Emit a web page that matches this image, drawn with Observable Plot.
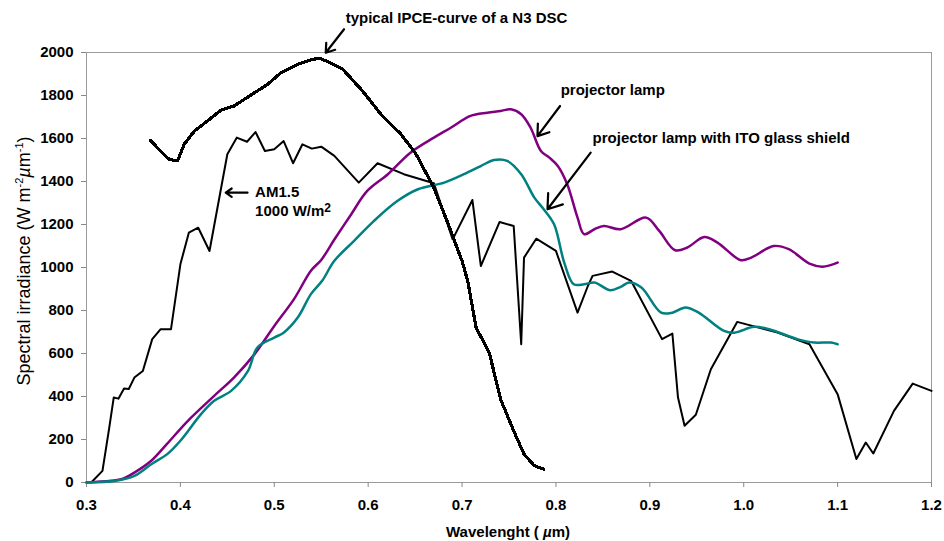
<!DOCTYPE html>
<html>
<head>
<meta charset="utf-8">
<script src="https://cdn.jsdelivr.net/npm/d3@7"></script>
<script src="https://cdn.jsdelivr.net/npm/@observablehq/plot@0.6"></script>
<style>
  html, body { margin: 0; padding: 0; background: #fff; }
</style>
</head>
<body>
<div id="chart"></div>
<script>
// AM1.5 reference solar spectrum (1000 W/m²)
const am15Wl  = [0.305,0.317,0.324,0.329,0.334,0.340,0.345,0.351,0.360,0.370,0.379,0.390,0.400,0.409,0.419,0.431,0.450,0.460,0.471,0.480,0.490,0.500,0.510,0.520,0.530,0.540,0.550,0.564,0.590,0.610,0.638,0.670,0.690,0.711,0.720,0.740,0.755,0.763,0.766,0.779,0.800,0.823,0.834,0.839,0.860,0.880,0.913,0.924,0.930,0.937,0.949,0.965,0.993,1.036,1.070,1.100,1.120,1.130,1.138,1.160,1.180,1.200];
const am15Val = [0,54,248,395,390,437,435,488,519,667,713,713,1015,1162,1185,1077,1527,1604,1585,1630,1542,1550,1588,1485,1573,1553,1562,1519,1395,1485,1434,1392,1131,1314,1007,1212,1193,643,1046,1134,1077,790,914,961,981,938,667,693,395,264,315,527,747,697,643,411,109,186,135,333,460,426];

// IPCE curve of an N3 dye cell, scaled onto the irradiance axis
const ipceWl  = [0.368,0.377,0.388,0.397,0.404,0.415,0.429,0.443,0.457,0.479,0.493,0.507,0.525,0.541,0.548,0.555,0.573,0.594,0.615,0.635,0.651,0.670,0.684,0.700,0.706,0.715,0.729,0.741,0.755,0.766,0.777,0.787];
const ipceVal = [1592,1550,1503,1496,1573,1635,1682,1731,1751,1813,1852,1906,1945,1968,1973,1961,1922,1821,1705,1620,1527,1371,1216,1030,938,720,604,388,240,132,78,62];

// Projector lamp
const lampWl  = [0.300,0.326,0.338,0.351,0.369,0.386,0.408,0.436,0.457,0.479,0.500,0.521,0.539,0.550,0.564,0.582,0.599,0.621,0.645,0.670,0.688,0.709,0.727,0.741,0.752,0.763,0.773,0.784,0.793,0.802,0.812,0.823,0.830,0.841,0.851,0.869,0.896,0.910,0.927,0.940,0.958,0.972,0.997,1.008,1.032,1.048,1.070,1.084,1.100];
const lampVal = [0,8,16,46,101,181,287,403,488,597,728,853,985,1035,1130,1248,1356,1434,1534,1604,1650,1705,1720,1728,1736,1713,1650,1542,1511,1472,1387,1232,1155,1178,1193,1178,1232,1170,1080,1093,1142,1116,1034,1046,1100,1085,1018,1004,1023];

// Projector lamp behind an ITO glass shield
const itoWl  = [0.300,0.331,0.351,0.369,0.386,0.400,0.422,0.436,0.454,0.472,0.482,0.500,0.510,0.525,0.539,0.551,0.564,0.585,0.606,0.631,0.653,0.681,0.702,0.720,0.734,0.748,0.763,0.777,0.787,0.798,0.809,0.819,0.830,0.841,0.858,0.869,0.878,0.891,0.912,0.924,0.938,0.952,0.979,0.990,1.011,1.027,1.057,1.075,1.093,1.100];
const itoVal = [0,8,31,85,132,194,318,380,426,519,628,674,697,767,876,938,1031,1124,1216,1309,1364,1395,1434,1472,1500,1496,1434,1325,1271,1201,1020,922,922,930,894,910,930,907,790,790,814,790,705,697,724,713,667,651,651,643];

// Axis ticks
const xTicks = [0.3,0.4,0.5,0.6,0.7,0.8,0.9,1.0,1.1,1.2];
const yTicks = [0,200,400,600,800,1000,1200,1400,1600,1800,2000];

// Callout labels and their arrows (data coordinates)
const noteText = ["typical IPCE-curve of a N3 DSC","projector lamp","projector lamp with ITO glass shield","AM1.5","1000 W/m"];
const noteX    = [0.576,0.805,0.839,0.4796,0.4796];
const noteY    = [2160,1826,1603,1348,1263];
const arrowX1  = [0.5743,0.8044,0.837,0.4715];
const arrowY1  = [2108,1751,1534,1348];
const arrowX2  = [0.5548,0.7803,0.791,0.4483];
const arrowY2  = [1999,1611,1271,1348];

const toRows = (wl, val) => wl.map((w, i) => ({wl: w, v: val[i]}));
const notes = noteText.map((t, i) => ({t, x: noteX[i], y: noteY[i]}));
const arrows = arrowX1.map((x1, i) => ({x1, y1: arrowY1[i], x2: arrowX2[i], y2: arrowY2[i]}));

const svg = Plot.plot({
  width: 944,
  height: 541,
  marginLeft: 86,
  marginRight: 13,
  marginTop: 52,
  marginBottom: 59,
  style: {fontFamily: "'Liberation Sans', Arial, sans-serif", fontSize: "15px", fontWeight: "bold", background: "#fff", overflow: "visible"},
  x: {domain: [0.3, 1.2]},
  y: {domain: [0, 2000]},
  marks: [
    Plot.frame({stroke: "#9a9a9a"}),
    Plot.axisY({ticks: yTicks, tickFormat: d => String(d), tickSize: 5, tickPadding: 8, stroke: "#888", fill: "#000", label: null}),
    Plot.axisX({ticks: xTicks, tickFormat: d => d.toFixed(1), tickSize: 5, tickPadding: 12, stroke: "#888", fill: "#000", label: null}),
    Plot.line(toRows(am15Wl, am15Val), {x: "wl", y: "v", stroke: "#000", strokeWidth: 2}),
    Plot.line(toRows(lampWl, lampVal), {x: "wl", y: "v", stroke: "#800080", strokeWidth: 2.5, curve: "catmull-rom"}),
    Plot.line(toRows(itoWl, itoVal), {x: "wl", y: "v", stroke: "#008080", strokeWidth: 2.5, curve: "catmull-rom"}),
    Plot.line(toRows(ipceWl, ipceVal), {x: "wl", y: "v", stroke: "#000", strokeWidth: 3.2, shapeRendering: "crispEdges"}),
    Plot.arrow(arrows, {x1: "x1", y1: "y1", x2: "x2", y2: "y2", stroke: "#000", strokeWidth: 2.2, headLength: 11, headAngle: 70, bend: 0}),
    Plot.text(notes, {x: "x", y: "y", text: "t", textAnchor: "start", fill: "#000", fontSize: 15, fontWeight: "bold"})
  ]
});

const root = d3.select(svg);

// Superscript 2 on the AM1.5 power label
root.selectAll("text").filter(function () { return this.textContent === "1000 W/m"; })
  .each(function () {
    d3.select(this).append("tspan").attr("dy", -4).style("font-size", "12px").text("2");
  });

// Y axis title with superscripts
const yt = root.append("text")
  .attr("transform", "translate(30,261) rotate(-90)")
  .attr("text-anchor", "middle")
  .style("font-size", "18px")
  .style("font-weight", "normal")
  .attr("fill", "#000");
yt.append("tspan").text("Spectral irradiance (W m");
yt.append("tspan").attr("dy", -7).style("font-size", "11px").text("-2");
yt.append("tspan").attr("dy", 7).style("font-style", "italic").text("µ");
yt.append("tspan").text("m");
yt.append("tspan").attr("dy", -7).style("font-size", "11px").text("-1");
yt.append("tspan").attr("dy", 7).text(")");

// X axis title
const xt = root.append("text")
  .attr("x", 508)
  .attr("y", 537)
  .attr("text-anchor", "middle")
  .style("font-size", "15px")
  .attr("fill", "#000");
xt.append("tspan").text("Wavelenght ( ");
xt.append("tspan").style("font-style", "italic").text("µ");
xt.append("tspan").text("m)");

document.getElementById("chart").appendChild(svg);
</script>
</body>
</html>
